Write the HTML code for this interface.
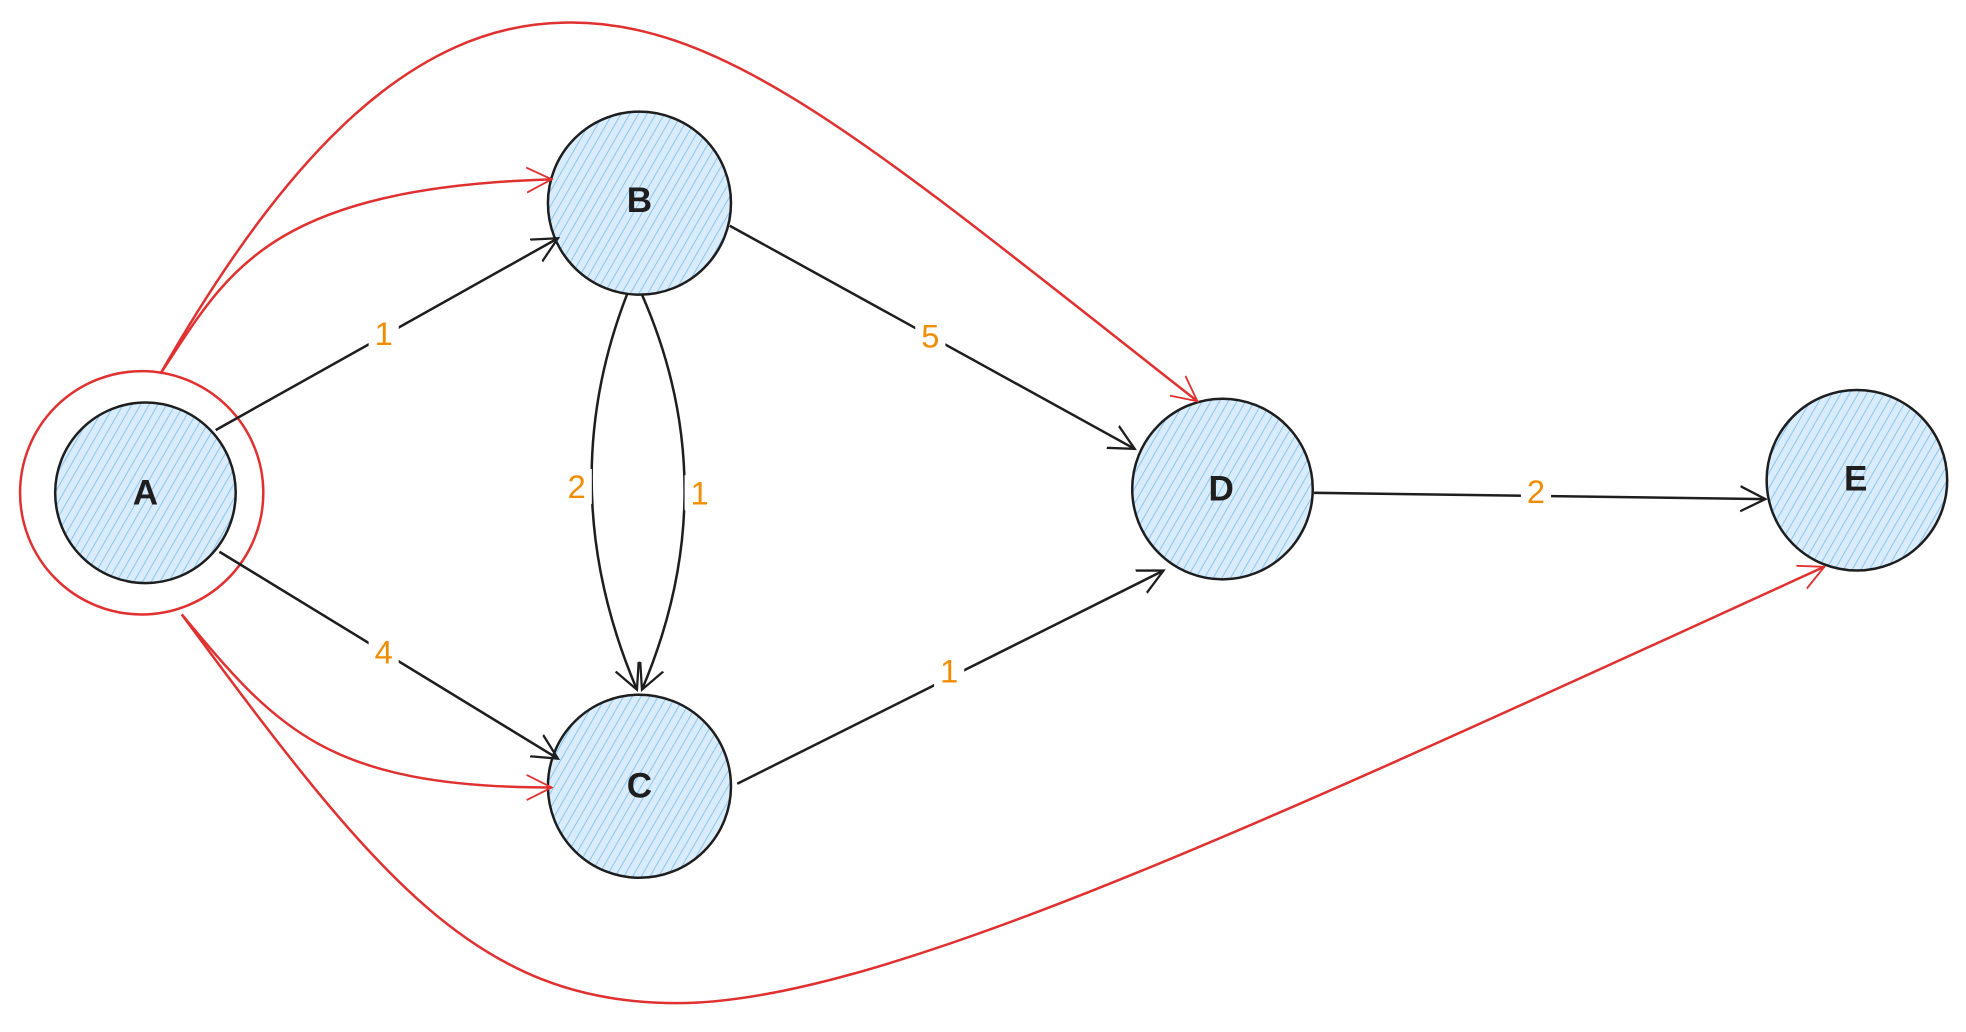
<!DOCTYPE html>
<html><head><style>html,body{margin:0;padding:0;background:#fff;overflow:hidden}</style></head>
<body>
<svg width="1966" height="1027" viewBox="0 0 1568 819" preserveAspectRatio="none" xmlns="http://www.w3.org/2000/svg">
<defs>
<pattern id="h" patternUnits="userSpaceOnUse" width="6" height="6" patternTransform="rotate(30)">
<rect width="6" height="6" fill="#d9ecfb"/><line x1="0" y1="0" x2="0" y2="6" stroke="#8cc4f0" stroke-width="1.6"/>
</pattern>
<marker id="ab" markerWidth="40" markerHeight="40" refX="22" refY="11" orient="auto" markerUnits="userSpaceOnUse" viewBox="0 0 44 22">
<path d="M0,0 L22,11 L0,22" fill="none" stroke="#1e1e1e" stroke-width="2"/></marker>
<marker id="ar" markerWidth="40" markerHeight="40" refX="22" refY="11" orient="auto" markerUnits="userSpaceOnUse" viewBox="0 0 44 22">
<path d="M0,0 L22,11 L0,22" fill="none" stroke="#e03131" stroke-width="1.6"/></marker>
</defs>
<g fill="url(#h)" stroke="#1e1e1e" stroke-width="2">
<circle cx="116" cy="393" r="72"/>
<circle cx="510" cy="162" r="73"/>
<circle cx="510" cy="627" r="73"/>
<circle cx="975" cy="390" r="72"/>
<circle cx="1481" cy="383" r="72"/>
</g>
<circle cx="113" cy="393" r="97" fill="none" stroke="#e03131" stroke-width="2"/>
<g fill="none" stroke="#1e1e1e" stroke-width="2" marker-end="url(#ab)">
<path d="M172,343 L445,190"/>
<path d="M175,440 L445,605"/>
<path d="M582,180 L905,358"/>
<path d="M588,625 L928,455"/>
<path d="M1048,393 L1408,398"/>
<path d="M500,235 Q440,390 508,550"/>
<path d="M512,235 Q580,390 512,550"/>
</g>
<g fill="none" stroke="#e03131" stroke-width="2" marker-end="url(#ar)">
<path d="M128,298 C180,220 210,150 440,143"/>
<path d="M128,298 C230,120 330,20 450,18 C580,15 700,120 955,320"/>
<path d="M145,490 C220,580 260,628 440,628"/>
<path d="M145,490 C300,700 380,800 540,800 C700,800 1000,660 1455,452"/>
</g>
<g font-family="Liberation Sans, sans-serif" font-size="26" fill="#f08c00" text-anchor="middle" dominant-baseline="central">
<rect x="294" y="252" width="24" height="28" fill="#fff"/><text x="306" y="266">1</text>
<rect x="294" y="506" width="24" height="28" fill="#fff"/><text x="306" y="520">4</text>
<rect x="730" y="254" width="24" height="28" fill="#fff"/><text x="742" y="268">5</text>
<rect x="745" y="521" width="24" height="28" fill="#fff"/><text x="757" y="535">1</text>
<rect x="1213" y="378" width="24" height="28" fill="#fff"/><text x="1225" y="392">2</text>
<rect x="448" y="374" width="24" height="28" fill="#fff"/><text x="460" y="388">2</text>
<rect x="546" y="379" width="24" height="28" fill="#fff"/><text x="558" y="393">1</text>
</g>
<g font-family="Liberation Sans, sans-serif" font-size="28" font-weight="bold" fill="#1e1e1e" text-anchor="middle" dominant-baseline="central">
<text x="116" y="393">A</text><text x="510" y="160">B</text><text x="510" y="627">C</text><text x="974" y="390">D</text><text x="1480" y="382">E</text>
</g>
</svg>
</body></html>
